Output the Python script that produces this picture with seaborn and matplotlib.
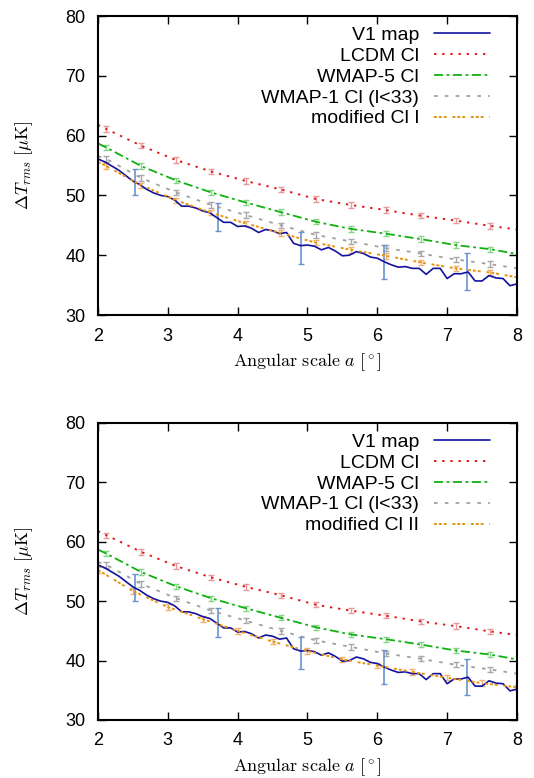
import numpy as np
import pandas as pd
import matplotlib
matplotlib.use("Agg")
from matplotlib import pyplot as plt
import seaborn as sns

# V1 map (solid blue), sampled every 0.1 deg
map_scale = [2.0, 2.1, 2.2, 2.3, 2.4, 2.5, 2.6, 2.7, 2.8, 2.9,
             3.0, 3.1, 3.2, 3.3, 3.4, 3.5, 3.6, 3.7, 3.8, 3.9,
             4.0, 4.1, 4.2, 4.3, 4.4, 4.5, 4.6, 4.7, 4.8, 4.9,
             5.0, 5.1, 5.2, 5.3, 5.4, 5.5, 5.6, 5.7, 5.8, 5.9,
             6.0, 6.1, 6.2, 6.3, 6.4, 6.5, 6.6, 6.7, 6.8, 6.9,
             7.0, 7.1, 7.2, 7.3, 7.4, 7.5, 7.6, 7.7, 7.8, 7.9, 8.0]
v1_map = [56.1, 55.6, 54.9, 54.2, 53.3, 52.4, 51.8, 51.0, 50.4, 50.0,
          49.8, 49.2, 48.2, 48.2, 47.9, 47.4, 47.1, 46.3, 45.5, 45.5,
          44.8, 44.9, 44.5, 43.8, 44.3, 44.1, 43.6, 43.8, 42.0, 41.6,
          41.7, 41.5, 40.9, 41.3, 40.7, 39.9, 40.0, 40.6, 40.3, 39.7,
          39.5, 38.9, 38.4, 38.0, 38.1, 37.8, 37.8, 36.8, 37.8, 37.8,
          36.1, 36.9, 36.9, 37.2, 35.7, 35.7, 36.6, 36.2, 36.1, 34.9, 35.2]
map_err_scale = [2.53, 3.72, 4.91, 6.10, 7.29]
map_err_mid = [52.3, 46.4, 41.25, 38.85, 37.25]
map_err_half = [2.2, 2.4, 2.65, 2.85, 3.05]

# model curves (error points at the inner positions)
model_scale = [2.0, 2.12, 2.62, 3.12, 3.62, 4.12, 4.62, 5.12, 5.62, 6.12, 6.62, 7.12, 7.62, 8.0]
lcdm = [61.8, 61.1, 58.3, 55.9, 54.0, 52.4, 51.0, 49.4, 48.4, 47.55, 46.6, 45.8, 44.9, 44.3]
wmap5 = [58.7, 58.0, 54.9, 52.5, 50.5, 48.8, 47.2, 45.6, 44.4, 43.6, 42.7, 41.7, 41.0, 40.2]
wmap1 = [56.6, 56.1, 52.9, 50.5, 48.4, 46.7, 45.0, 43.4, 42.3, 41.2, 40.3, 39.3, 38.5, 37.8]
mod_cl1 = [55.6, 54.9, 51.7, 49.2, 47.1, 45.3, 43.7, 42.1, 40.9, 39.9, 38.8, 37.8, 37.1, 36.3]

mod2_scale = [2.0, 2.5, 3.0, 3.5, 4.0, 4.5, 5.0, 5.5, 6.0, 6.5, 7.0, 7.5, 8.0]
mod_cl2 = [55.25, 51.7, 49.0, 47.0, 45.0, 43.2, 41.6, 40.2, 39.15, 38.1, 37.1, 36.2, 35.5]
model_err_half = 0.45

sns.set_style("ticks")
plt.rcParams['font.family'] = ['Liberation Sans', 'DejaVu Sans']
plt.rcParams['mathtext.fontset'] = 'cm'
plt.rcParams['text.color'] = 'black'
plt.rcParams['axes.labelcolor'] = 'black'

fig = plt.figure(figsize=(5.34, 7.78), dpi=100)
ax_top = fig.add_axes([0.1835, 0.5951, 0.7846, 0.3843])
ax_bot = fig.add_axes([0.1835, 0.0746, 0.7846, 0.3817])


def draw_panel(ax, orange_x, orange_y, orange_label, orange_err_x, orange_err_y):
    sns.lineplot(x=map_scale, y=v1_map, ax=ax, color='#1212a0', lw=1.2,
                 sort=False, estimator=None, label='V1 map')
    sns.lineplot(x=model_scale, y=lcdm, ax=ax, color='#e01818', lw=1.4,
                 linestyle=(0, (1.2, 3.0)), sort=False, estimator=None, label='LCDM Cl')
    sns.lineplot(x=model_scale, y=wmap5, ax=ax, color='#10b010', lw=1.3,
                 linestyle=(0, (5, 2, 1.5, 2)), sort=False, estimator=None, label='WMAP-5 Cl')
    sns.lineplot(x=model_scale, y=wmap1, ax=ax, color='#a0a0a0', lw=1.3,
                 linestyle=(0, (2, 4)), sort=False, estimator=None, label='WMAP-1 Cl (l<33)')
    sns.lineplot(x=orange_x, y=orange_y, ax=ax, color='#e89410', lw=1.4,
                 linestyle=(0, (1.5, 1, 1.5, 1, 1.5, 3)), sort=False, estimator=None,
                 label=orange_label)

    errs = [(model_scale[1:-1], lcdm[1:-1], '#e89a9a'),
            (model_scale[1:-1], wmap5[1:-1], '#88d488'),
            (model_scale[1:-1], wmap1[1:-1], '#a8a8a8'),
            (orange_err_x, orange_err_y, '#f0b070')]
    for ex, ey, col in errs:
        ax.errorbar(ex, ey, yerr=model_err_half, fmt='none', ecolor=col,
                    elinewidth=1.0, capsize=2.0, capthick=1.0, zorder=1)
    ax.errorbar(map_err_scale, map_err_mid, yerr=map_err_half, fmt='none',
                ecolor='#6a92d0', elinewidth=1.2, capsize=2.5, capthick=1.0, zorder=1)

    ax.set_xlim(2, 8)
    ax.set_ylim(30, 80)
    ax.set_xticks([2, 3, 4, 5, 6, 7, 8])
    ax.set_yticks([30, 40, 50, 60, 70, 80])
    ax.tick_params(direction='in', length=6, width=1.0, top=True, right=True,
                   labelsize=13, colors='black')
    ax.tick_params(axis='x', pad=9)
    ax.tick_params(axis='y', pad=9)
    for sp in ax.spines.values():
        sp.set_linewidth(1.5)
        sp.set_color('black')
    ax.set_xlabel(r'$\mathrm{Angular\ scale}\ a\ [^\circ]$', fontsize=13, labelpad=5)
    ax.set_ylabel(r'$\Delta T_{rms}\ [\mu\mathrm{K}]$', fontsize=13)
    ax.yaxis.set_label_coords(-0.15, 0.5)
    ax.legend(loc='upper right', bbox_to_anchor=(0.936, 0.966), frameon=False,
              markerfirst=False, fontsize=14, handlelength=2.9, handletextpad=0.75,
              labelspacing=0.17, borderpad=0, borderaxespad=0, labelcolor='black')


draw_panel(ax_top, model_scale, mod_cl1, 'modified Cl I', model_scale[1:-1], mod_cl1[1:-1])
draw_panel(ax_bot, mod2_scale, mod_cl2, 'modified Cl II', mod2_scale, mod_cl2)

fig.savefig('out.png', dpi=100)
